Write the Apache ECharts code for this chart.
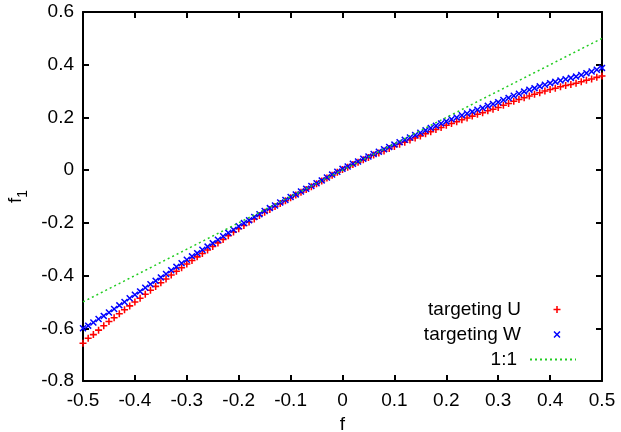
<!DOCTYPE html>
<html>
<head>
<meta charset="utf-8">
<script src="https://cdn.jsdelivr.net/npm/echarts@6/dist/echarts.min.js"></script>
<style>
  html, body { margin: 0; padding: 0; background: #fff; }
  #chart { width: 621px; height: 432px; }
</style>
</head>
<body>
<div id="chart"></div>
<script>
// f grid (step 0.01)
var fValues = [
  -0.50, -0.49, -0.48, -0.47, -0.46, -0.45, -0.44, -0.43, -0.42, -0.41,
  -0.40, -0.39, -0.38, -0.37, -0.36, -0.35, -0.34, -0.33, -0.32, -0.31,
  -0.30, -0.29, -0.28, -0.27, -0.26, -0.25, -0.24, -0.23, -0.22, -0.21,
  -0.20, -0.19, -0.18, -0.17, -0.16, -0.15, -0.14, -0.13, -0.12, -0.11,
  -0.10, -0.09, -0.08, -0.07, -0.06, -0.05, -0.04, -0.03, -0.02, -0.01,
  0.00, 0.01, 0.02, 0.03, 0.04, 0.05, 0.06, 0.07, 0.08, 0.09,
  0.10, 0.11, 0.12, 0.13, 0.14, 0.15, 0.16, 0.17, 0.18, 0.19,
  0.20, 0.21, 0.22, 0.23, 0.24, 0.25, 0.26, 0.27, 0.28, 0.29,
  0.30, 0.31, 0.32, 0.33, 0.34, 0.35, 0.36, 0.37, 0.38, 0.39,
  0.40, 0.41, 0.42, 0.43, 0.44, 0.45, 0.46, 0.47, 0.48, 0.49,
  0.50
]
// f1, targeting U
var targetingU = [
  -0.657, -0.638, -0.624, -0.607, -0.590, -0.574, -0.560, -0.545, -0.530, -0.515,
  -0.500, -0.486, -0.471, -0.456, -0.441, -0.427, -0.413, -0.398, -0.384, -0.370,
  -0.356, -0.343, -0.329, -0.316, -0.303, -0.290, -0.276, -0.263, -0.249, -0.235,
  -0.222, -0.210, -0.197, -0.185, -0.172, -0.160, -0.149, -0.138, -0.127, -0.116,
  -0.105, -0.094, -0.084, -0.073, -0.063, -0.052, -0.041, -0.030, -0.019, -0.008,
  0.002, 0.011, 0.021, 0.030, 0.039, 0.048, 0.057, 0.065, 0.073, 0.082,
  0.090, 0.098, 0.106, 0.114, 0.122, 0.130, 0.138, 0.146, 0.154, 0.162,
  0.170, 0.177, 0.184, 0.191, 0.198, 0.205, 0.212, 0.218, 0.225, 0.231,
  0.238, 0.246, 0.253, 0.261, 0.268, 0.275, 0.281, 0.288, 0.294, 0.300,
  0.306, 0.311, 0.316, 0.321, 0.325, 0.330, 0.335, 0.341, 0.346, 0.352,
  0.357
]
// f1, targeting W
var targetingW = [
  -0.600, -0.590, -0.578, -0.565, -0.553, -0.540, -0.527, -0.513, -0.500, -0.486,
  -0.473, -0.460, -0.446, -0.433, -0.420, -0.407, -0.394, -0.380, -0.367, -0.353,
  -0.340, -0.327, -0.315, -0.302, -0.290, -0.277, -0.264, -0.251, -0.238, -0.226,
  -0.213, -0.201, -0.190, -0.178, -0.167, -0.155, -0.144, -0.134, -0.123, -0.113,
  -0.102, -0.092, -0.081, -0.071, -0.060, -0.050, -0.039, -0.028, -0.017, -0.006,
  0.005, 0.014, 0.024, 0.033, 0.043, 0.052, 0.061, 0.070, 0.079, 0.088,
  0.097, 0.106, 0.115, 0.124, 0.133, 0.142, 0.151, 0.160, 0.168, 0.177,
  0.185, 0.193, 0.200, 0.208, 0.215, 0.222, 0.229, 0.236, 0.244, 0.251,
  0.258, 0.266, 0.274, 0.282, 0.290, 0.298, 0.305, 0.311, 0.318, 0.324,
  0.330, 0.335, 0.340, 0.345, 0.350, 0.355, 0.361, 0.368, 0.374, 0.381,
  0.388
]
var oneToOne = [[-0.5, -0.5], [0.5, 0.5]]

var xRange = { min: -0.5, max: 0.5, step: 0.1 }
var yRange = { min: -0.8, max: 0.6, step: 0.2 }

var FONT = 'Liberation Sans, Arial, Helvetica, sans-serif'
var FS = 19
var PLUS = 'path://M3.9,0H6.1V3.9H10V6.1H6.1V10H3.9V6.1H0V3.9H3.9Z'
var CROSS = 'path://M0,1.5L1.5,0L5,3.5L8.5,0L10,1.5L6.5,5L10,8.5L8.5,10L5,6.5L1.5,10L0,8.5L3.5,5Z'

function pairs(ys) {
  return fValues.map(function(f, i) { return [f, ys[i]] })
}
function fmt(v) {
  return String(Math.round(v * 10) / 10)
}
function axis(range, extra, labelMargin) {
  var a = {
    type: 'value',
    min: range.min,
    max: range.max,
    interval: range.step,
    splitLine: { show: false },
    axisLine: { show: true, onZero: false, lineStyle: { color: '#000', width: 2 } },
    axisTick: { show: true, inside: true, length: 6, lineStyle: { color: '#000', width: 2 } },
    axisLabel: { show: true, color: '#000', fontSize: FS, fontFamily: FONT, margin: labelMargin || 9, formatter: fmt }
  }
  return Object.assign(a, extra)
}
// the box is sized on what is drawn, so point items and the line item need different offsets
function legendFor(name, top, right, itemHeight, extra) {
  var l = {
    data: [name],
    orient: 'vertical',
    align: 'right',
    right: right,
    top: top,
    itemWidth: 46,
    itemHeight: itemHeight,
    selectedMode: false,
    textStyle: { color: '#000', fontSize: FS, fontFamily: FONT, padding: [0, 8, 0, 0] }
  }
  return Object.assign(l, extra || {})
}

var chart = echarts.init(document.getElementById('chart'))
chart.setOption({
  animation: false,
  backgroundColor: '#fff',
  grid: { left: 83, right: 19, top: 12, bottom: 51, outerBoundsMode: 'none', containLabel: false },
  legend: [
    legendFor('targeting U', 295, 55.5, 7),
    legendFor('targeting W', 320, 55.5, 7),
    legendFor('1:1', 345, 39, 14, { itemStyle: { opacity: 0 } })
  ],
  xAxis: [
    axis(xRange, {
      name: 'f', nameLocation: 'middle', nameGap: 30,
      nameTextStyle: { color: '#000', fontSize: FS, fontFamily: FONT }
    }, 10),
    axis(xRange, { position: 'top', axisLabel: { show: false } })
  ],
  yAxis: [
    axis(yRange, {
      name: '{f|f}{s|1}', nameLocation: 'middle', nameGap: 51, nameRotate: 90,
      nameTextStyle: {
        color: '#000', fontSize: FS, fontFamily: FONT,
        rich: {
          f: { fontSize: FS, fontFamily: FONT, color: '#000', padding: [0, 0, 5, 0] },
          s: { fontSize: 14, fontFamily: FONT, color: '#000', verticalAlign: 'bottom' }
        }
      }
    }, 9),
    axis(yRange, { position: 'right', axisLabel: { show: false } })
  ],
  series: [
    {
      name: 'targeting U',
      type: 'scatter',
      data: pairs(targetingU),
      symbol: PLUS,
      symbolSize: 7,
      symbolKeepAspect: true,
      itemStyle: { color: '#ff0000', opacity: 1 }
    },
    {
      name: 'targeting W',
      type: 'scatter',
      data: pairs(targetingW),
      symbol: CROSS,
      symbolSize: 7,
      symbolKeepAspect: true,
      itemStyle: { color: '#0000ff', opacity: 1 }
    },
    {
      name: '1:1',
      type: 'line',
      data: oneToOne,
      showSymbol: false,
      symbol: 'none',
      lineStyle: { color: '#22cc22', width: 1.5, type: [2, 3] },
      itemStyle: { color: '#22cc22' }
    }
  ]
})
</script>
</body>
</html>
